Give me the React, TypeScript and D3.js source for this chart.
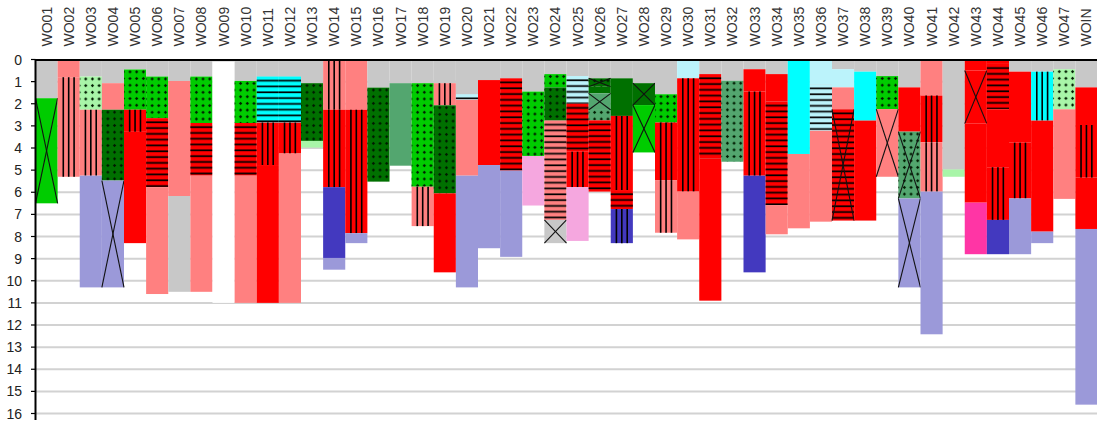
import * as d3 from "d3";

const wells = [
  "WO01", "WO02", "WO03", "WO04", "WO05", "WO06", "WO07", "WO08", "WO09", "WO10",
  "WO11", "WO12", "WO13", "WO14", "WO15", "WO16", "WO17", "WO18", "WO19", "WO20",
  "WO21", "WO22", "WO23", "WO24", "WO25", "WO26", "WO27", "WO28", "WO29", "WO30",
  "WO31", "WO32", "WO33", "WO34", "WO35", "WO36", "WO37", "WO38", "WO39", "WO40",
  "WO41", "WO42", "WO43", "WO44", "WO45", "WO46", "WO47", "WOIN",
];

const depthTicks = [0, 1, 2, 3, 4, 5, 6, 7, 8, 9, 10, 11, 12, 13, 14, 15, 16];

// lithology key -> fill colour
const lithColors: Record<string, string> = {
  G: "#c8c8c8",
  S: "#ff8080",
  R: "#ff0000",
  LG: "#00cc00",
  DG: "#007000",
  SG: "#53a66f",
  PG: "#a8f5a8",
  C: "#00ffff",
  LC: "#bbf3fb",
  L: "#9b99d9",
  DB: "#4339bf",
  P: "#f5a7df",
  HP: "#ff35a5",
  W: "#ffffff",
};

// [well, top, base, lithology, pattern]  pattern: d = dots, h = horizontal, v = vertical, x = cross
const intervals: [string, number, number, string, string][] = [
  ["WO01", 0, 1.75, "G", ""], ["WO01", 1.75, 6.5, "LG", "x"],
  ["WO02", 0, 0.8, "S", ""], ["WO02", 0.8, 5.3, "S", "v"],
  ["WO03", 0, 0.77, "G", ""], ["WO03", 0.77, 2.27, "PG", "d"], ["WO03", 2.27, 5.25, "S", "v"], ["WO03", 5.25, 10.3, "L", ""],
  ["WO04", 0, 1.07, "G", ""], ["WO04", 1.07, 2.27, "S", ""], ["WO04", 2.27, 5.47, "DG", "d"], ["WO04", 5.47, 10.3, "L", "x"],
  ["WO05", 0, 0.45, "G", ""], ["WO05", 0.45, 2.27, "LG", "d"], ["WO05", 2.27, 3.27, "R", "v"], ["WO05", 3.27, 8.3, "R", ""],
  ["WO06", 0, 0.77, "G", ""], ["WO06", 0.77, 2.65, "LG", "d"], ["WO06", 2.65, 5.77, "R", "h"], ["WO06", 5.77, 10.6, "S", ""],
  ["WO07", 0, 0.97, "G", ""], ["WO07", 0.97, 6.17, "S", ""], ["WO07", 6.17, 10.5, "G", ""],
  ["WO08", 0, 0.77, "G", ""], ["WO08", 0.77, 2.87, "LG", "d"], ["WO08", 2.87, 5.25, "R", "h"], ["WO08", 5.25, 10.5, "S", ""],
  ["WO09", 0, 0.1, "G", ""], ["WO09", 0.1, 11.0, "W", ""],
  ["WO10", 0, 0.97, "G", ""], ["WO10", 0.97, 2.87, "LG", "d"], ["WO10", 2.87, 5.25, "R", "h"], ["WO10", 5.25, 11.0, "S", ""],
  ["WO11", 0, 0.77, "G", ""], ["WO11", 0.77, 2.85, "C", "h"], ["WO11", 2.85, 4.77, "R", "v"], ["WO11", 4.77, 11.0, "R", ""],
  ["WO12", 0, 0.77, "G", ""], ["WO12", 0.77, 2.85, "C", "h"], ["WO12", 2.85, 4.25, "R", "v"], ["WO12", 4.25, 11.0, "S", ""],
  ["WO13", 0, 1.07, "G", ""], ["WO13", 1.07, 3.68, "DG", "d"], ["WO13", 3.68, 3.98, "PG", ""],
  ["WO14", 0, 2.27, "S", "v"], ["WO14", 2.27, 5.77, "R", "v"], ["WO14", 5.77, 8.97, "DB", ""], ["WO14", 8.97, 9.5, "L", ""],
  ["WO15", 0, 2.27, "S", ""], ["WO15", 2.27, 7.85, "R", "v"], ["WO15", 7.85, 8.3, "L", ""],
  ["WO16", 0, 1.27, "G", ""], ["WO16", 1.27, 5.52, "DG", "d"],
  ["WO17", 0, 1.07, "G", ""], ["WO17", 1.07, 4.8, "SG", ""],
  ["WO18", 0, 1.07, "G", ""], ["WO18", 1.07, 5.75, "LG", "d"], ["WO18", 5.75, 7.53, "S", "v"],
  ["WO19", 0, 1.07, "G", ""], ["WO19", 1.07, 2.07, "S", "v"], ["WO19", 2.07, 6.05, "DG", "d"], ["WO19", 6.05, 9.62, "R", ""],
  ["WO20", 0, 1.57, "G", ""], ["WO20", 1.57, 1.82, "LC", "h"], ["WO20", 1.82, 5.25, "S", ""], ["WO20", 5.25, 10.3, "L", ""],
  ["WO21", 0, 0.93, "G", ""], ["WO21", 0.93, 4.77, "R", ""], ["WO21", 4.77, 8.53, "L", ""],
  ["WO22", 0, 0.85, "G", ""], ["WO22", 0.85, 5.02, "R", "h"], ["WO22", 5.02, 8.92, "L", ""],
  ["WO23", 0, 1.45, "G", ""], ["WO23", 1.45, 4.36, "LG", "d"], ["WO23", 4.36, 6.6, "P", ""],
  ["WO24", 0, 0.66, "G", ""], ["WO24", 0.66, 1.26, "LG", "d"], ["WO24", 1.26, 2.76, "DG", "d"], ["WO24", 2.76, 7.25, "S", "h"], ["WO24", 7.25, 8.3, "G", "x"],
  ["WO25", 0, 0.75, "G", ""], ["WO25", 0.75, 2.0, "LC", "h"], ["WO25", 2.0, 4.17, "R", "h"], ["WO25", 4.17, 5.77, "R", "v"], ["WO25", 5.77, 8.2, "P", ""],
  ["WO26", 0, 0.85, "G", ""], ["WO26", 0.85, 1.23, "DG", "dx"], ["WO26", 1.23, 1.53, "DG", ""], ["WO26", 1.53, 2.28, "SG", "x"], ["WO26", 2.28, 2.75, "SG", "d"], ["WO26", 2.75, 5.97, "R", "h"],
  ["WO27", 0, 0.85, "G", ""], ["WO27", 0.85, 2.55, "DG", ""], ["WO27", 2.55, 5.9, "R", "v"], ["WO27", 5.9, 6.76, "R", "h"], ["WO27", 6.76, 8.3, "DB", "v"],
  ["WO28", 0, 1.07, "G", ""], ["WO28", 1.07, 2.06, "DG", "x"], ["WO28", 2.06, 4.2, "LG", "x"],
  ["WO29", 0, 1.57, "G", ""], ["WO29", 1.57, 2.85, "LG", "d"], ["WO29", 2.85, 5.45, "R", "v"], ["WO29", 5.45, 7.83, "S", "v"],
  ["WO30", 0, 0.85, "LC", ""], ["WO30", 0.85, 5.97, "R", "v"], ["WO30", 5.97, 8.13, "S", ""],
  ["WO31", 0, 0.66, "G", ""], ["WO31", 0.66, 4.47, "R", "h"], ["WO31", 4.47, 10.9, "R", ""],
  ["WO32", 0, 0.96, "G", ""], ["WO32", 0.96, 4.62, "SG", "d"],
  ["WO33", 0, 0.44, "G", ""], ["WO33", 0.44, 1.45, "R", ""], ["WO33", 1.45, 5.25, "R", "v"], ["WO33", 5.25, 9.62, "DB", ""],
  ["WO34", 0, 0.66, "G", ""], ["WO34", 0.66, 1.9, "R", ""], ["WO34", 1.9, 6.58, "R", "h"], ["WO34", 6.58, 7.9, "S", ""],
  ["WO35", 0, 4.27, "C", ""], ["WO35", 4.27, 7.63, "S", ""],
  ["WO36", 0, 1.12, "LC", ""], ["WO36", 1.12, 3.22, "LC", "h"], ["WO36", 3.22, 7.33, "S", ""],
  ["WO37", 0, 0.44, "G", ""], ["WO37", 0.44, 1.26, "LC", ""], ["WO37", 1.26, 2.25, "S", ""], ["WO37", 2.25, 7.28, "R", "hx"],
  ["WO38", 0, 0.55, "G", ""], ["WO38", 0.55, 2.76, "C", ""], ["WO38", 2.76, 7.28, "R", ""],
  ["WO39", 0, 0.75, "G", ""], ["WO39", 0.75, 2.24, "LG", "d"], ["WO39", 2.24, 5.3, "S", "x"],
  ["WO40", 0, 1.26, "G", ""], ["WO40", 1.26, 3.26, "R", ""], ["WO40", 3.26, 6.28, "SG", "dx"], ["WO40", 6.28, 10.3, "L", "x"],
  ["WO41", 0, 1.63, "S", ""], ["WO41", 1.63, 3.74, "R", "v"], ["WO41", 3.74, 5.97, "S", "v"], ["WO41", 5.97, 12.42, "L", ""],
  ["WO42", 0, 4.97, "G", ""], ["WO42", 4.97, 5.3, "PG", ""],
  ["WO43", 0, 0.5, "R", ""], ["WO43", 0.5, 2.9, "R", "x"], ["WO43", 2.9, 6.47, "R", ""], ["WO43", 6.47, 8.8, "HP", ""],
  ["WO44", 0, 0.2, "R", ""], ["WO44", 0.2, 2.25, "R", "h"], ["WO44", 2.25, 4.87, "R", ""], ["WO44", 4.87, 7.25, "R", "v"], ["WO44", 7.25, 8.8, "DB", ""],
  ["WO45", 0, 0.55, "G", ""], ["WO45", 0.55, 3.76, "R", ""], ["WO45", 3.76, 6.28, "R", "v"], ["WO45", 6.28, 8.8, "L", ""],
  ["WO46", 0, 0.55, "G", ""], ["WO46", 0.55, 2.76, "C", "v"], ["WO46", 2.76, 7.78, "R", ""], ["WO46", 7.78, 8.3, "L", ""],
  ["WO47", 0, 0.44, "G", ""], ["WO47", 0.44, 2.25, "PG", "d"], ["WO47", 2.25, 6.3, "S", ""],
  ["WOIN", 0, 1.26, "G", ""], ["WOIN", 1.26, 2.96, "R", ""], ["WOIN", 2.96, 5.34, "R", "v"], ["WOIN", 5.34, 7.66, "R", ""], ["WOIN", 7.66, 15.6, "L", ""],
];

export default function App() {
  const width = 1097;
  const height = 423;
  const x = d3.scaleBand<string>().domain(wells).range([35.5, 1097.5]);
  const y = d3.scaleLinear().domain([0, 16]).range([59.5, 413.5]);
  const bw = x.bandwidth();
  const font = "'Liberation Sans', Arial, sans-serif";

  return (
    <svg width={width} height={height} style={{ position: "absolute", left: 0, top: 0, background: "#fff" }} fontFamily={font}>
      <defs>
        <pattern id="dots" patternUnits="userSpaceOnUse" width={6.67} height={6.67} x={2.67} y={-0.9}>
          <rect x={1.83} y={2.73} width={3} height={1.2} fill="#001a00" />
          <rect x={2.73} y={1.83} width={1.2} height={3} fill="#001a00" />
        </pattern>
        <pattern id="hlines" patternUnits="userSpaceOnUse" width={30} height={5.8} y={0}>
          <rect x={0} y={3.3} width={30} height={1.7} fill="#000" />
        </pattern>
      </defs>

      {/* gridlines */}
      <g stroke="#d2d2d2" strokeWidth={2}>
        {depthTicks.slice(1).map((d) => (
          <line key={d} x1={35.5} x2={width} y1={y(d)} y2={y(d)} />
        ))}
      </g>

      {/* intervals */}
      {intervals.map(([well, top, base, lith, pat], i) => {
        const h = y(base) - y(top);
        const cx = bw / 2;
        return (
          <g key={i} transform={`translate(${x(well)},${y(top)})`}>
            <rect width={bw} height={h} fill={lithColors[lith]} />
            {pat.includes("d") && <rect width={bw} height={h} fill="url(#dots)" />}
            {pat.includes("h") && <rect width={bw} height={h} fill="url(#hlines)" />}
            {pat.includes("v") && (
              <g stroke="#000" strokeWidth={1.6}>
                {[-5.4, 0, 5.4].map((o) => (
                  <line key={o} x1={cx + o} x2={cx + o} y1={0} y2={h} />
                ))}
              </g>
            )}
            {pat.includes("x") && (
              <g stroke="#111" strokeWidth={1.1}>
                <line x1={0} y1={0} x2={bw} y2={h} />
                <line x1={bw} y1={0} x2={0} y2={h} />
              </g>
            )}
          </g>
        );
      })}

      {/* axes */}
      <line x1={35.5} x2={width} y1={60} y2={60} stroke="#000" strokeWidth={2} />
      <line x1={35.5} x2={35.5} y1={59} y2={420} stroke="#000" strokeWidth={2} />
      <g stroke="#000" strokeWidth={1.2}>
        {depthTicks.map((d) => (
          <line key={d} x1={31} x2={35.5} y1={y(d)} y2={y(d)} />
        ))}
      </g>
      <g fontSize={14} fill="#222" textAnchor="end">
        {depthTicks.map((d) => (
          <text key={d} x={22} y={y(d)} dominantBaseline="central">
            {d}
          </text>
        ))}
      </g>
      <g fontSize={14} fill="#333">
        {wells.map((w) => (
          <text key={w} transform={`translate(${(x(w) ?? 0) + bw / 2 + 5},46.5) rotate(-90)`}>
            {w}
          </text>
        ))}
      </g>
    </svg>
  );
}
